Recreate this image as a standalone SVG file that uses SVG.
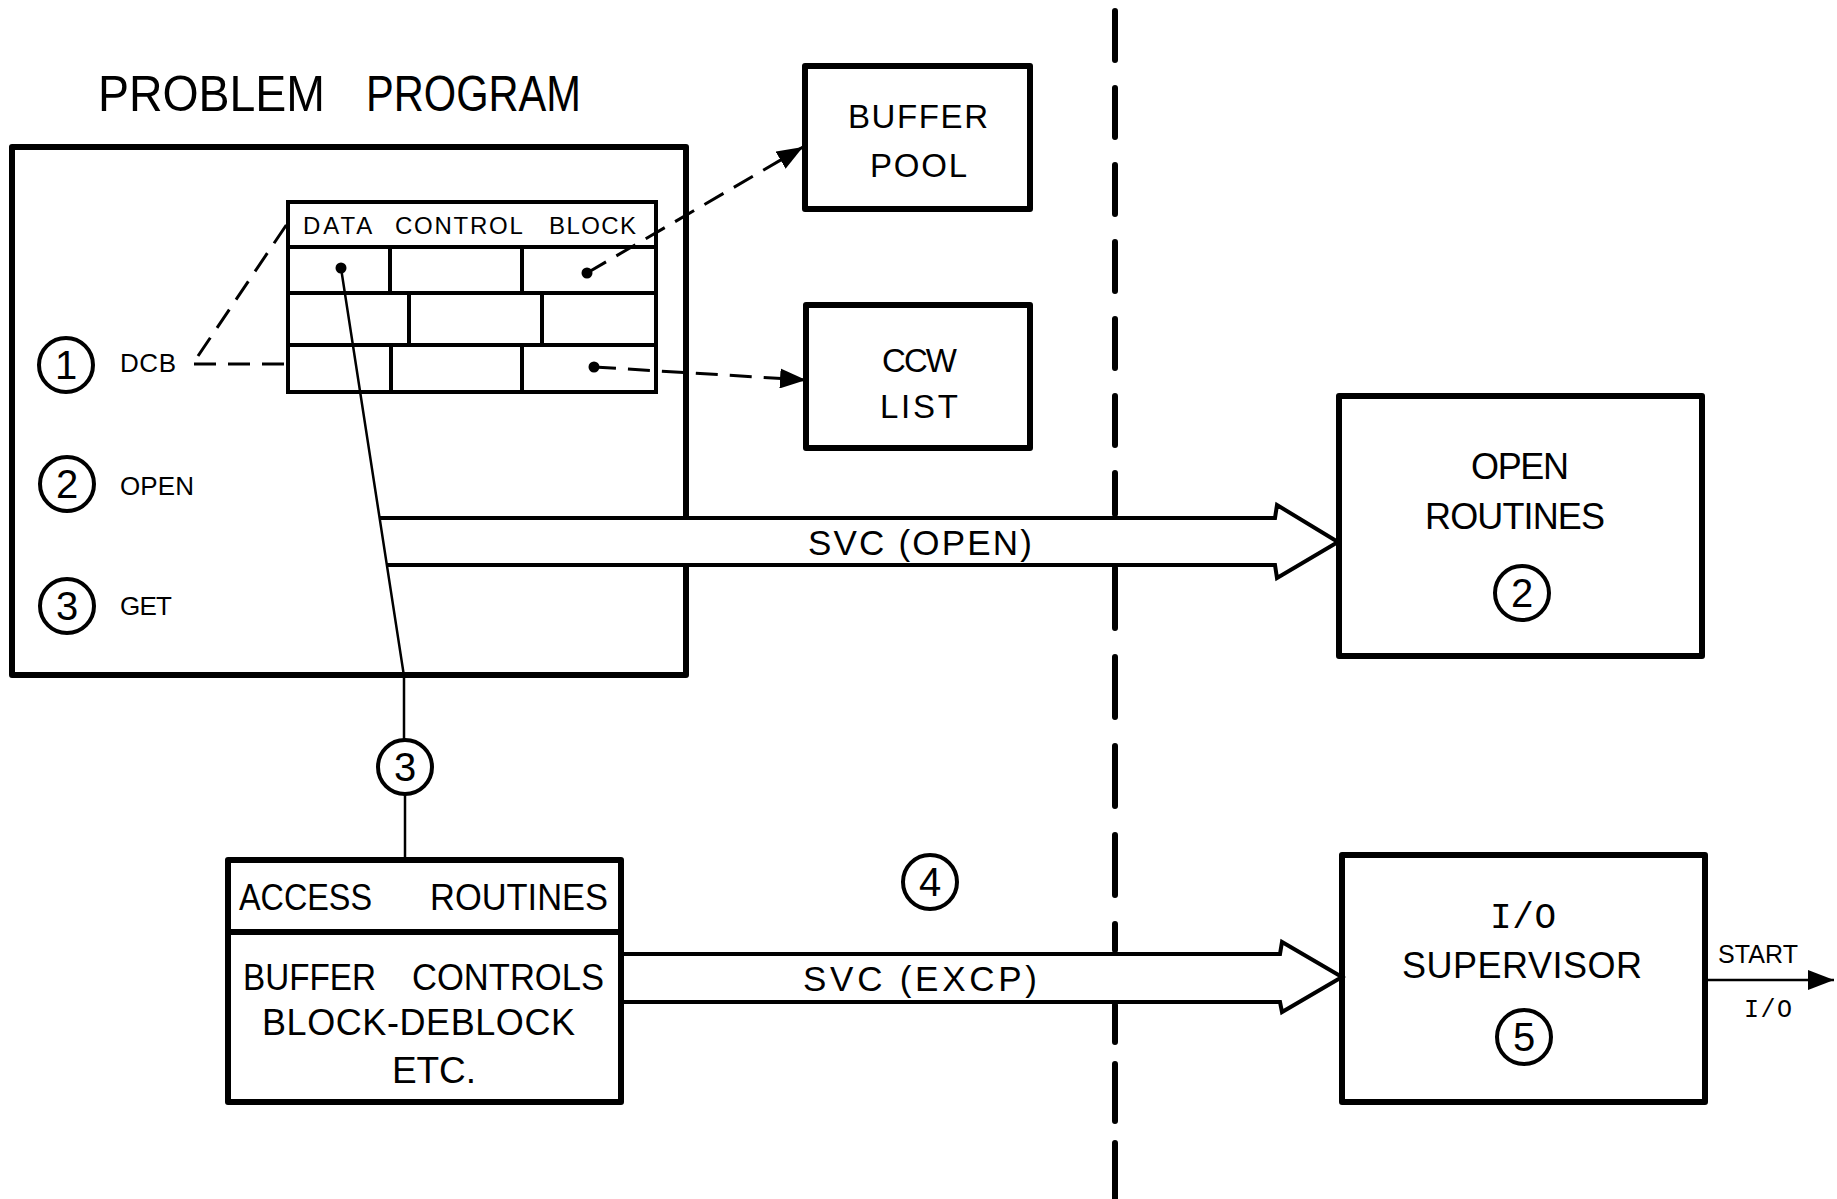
<svg xmlns="http://www.w3.org/2000/svg" width="1837" height="1199" viewBox="0 0 1837 1199">
<defs>
<style>
.t{font-family:"Liberation Sans","DejaVu Sans",sans-serif;fill:#000;}
.m{font-family:"Liberation Mono","DejaVu Sans Mono",monospace;fill:#000;}
.box{fill:none;stroke:#000;stroke-width:6;stroke-linejoin:round;}
.tbl{fill:none;stroke:#000;stroke-width:4;}
.num{fill:none;stroke:#000;stroke-width:4;}
.band{fill:none;stroke:#000;stroke-width:4;stroke-linejoin:miter;}
.dash{fill:none;stroke:#000;stroke-width:3;stroke-dasharray:22 12;}
.div{fill:none;stroke:#000;stroke-width:6;stroke-linecap:round;}
.thin{fill:none;stroke:#000;stroke-width:2.5;}
</style>
<marker id="ah" viewBox="0 0 26 20" refX="26" refY="10" markerWidth="26" markerHeight="20" markerUnits="userSpaceOnUse" orient="auto">
<path d="M0,0 L26,10 L0,20 Z" fill="#000"/>
</marker>
</defs>

<g id="title">
<text class="t" font-size="50"><tspan x="98" y="111" textLength="227" lengthAdjust="spacingAndGlyphs">PROBLEM</tspan> <tspan x="366" y="111" textLength="215" lengthAdjust="spacingAndGlyphs">PROGRAM</tspan></text>
</g>

<g id="problem-program">
<path class="box" d="M686,518 V147 H12 V675 H686 V565"/>
<g id="step1">
<circle class="num" cx="66" cy="365" r="27"/>
<text class="t" x="66" y="379" font-size="40" text-anchor="middle">1</text>
<text class="t" x="120" y="372" font-size="26" textLength="56" lengthAdjust="spacing">DCB</text>
</g>
<g id="step2">
<circle class="num" cx="67" cy="484" r="27"/>
<text class="t" x="67" y="498" font-size="40" text-anchor="middle">2</text>
<text class="t" x="120" y="495" font-size="26" textLength="74" lengthAdjust="spacing">OPEN</text>
</g>
<g id="step3">
<circle class="num" cx="67" cy="606" r="27"/>
<text class="t" x="67" y="620" font-size="40" text-anchor="middle">3</text>
<text class="t" x="120" y="615" font-size="26" textLength="52" lengthAdjust="spacing">GET</text>
</g>
</g>

<g id="data-control-block">
<rect class="tbl" x="288" y="202" width="368" height="190"/>
<line class="tbl" x1="288" y1="247" x2="656" y2="247"/>
<line class="tbl" x1="288" y1="293" x2="656" y2="293"/>
<line class="tbl" x1="288" y1="345" x2="656" y2="345"/>
<line class="tbl" x1="390" y1="247" x2="390" y2="293"/>
<line class="tbl" x1="522" y1="247" x2="522" y2="293"/>
<line class="tbl" x1="409" y1="293" x2="409" y2="345"/>
<line class="tbl" x1="542" y1="293" x2="542" y2="345"/>
<line class="tbl" x1="391" y1="345" x2="391" y2="392"/>
<line class="tbl" x1="522" y1="345" x2="522" y2="392"/>
<text class="t" font-size="24"><tspan x="303" y="234" textLength="68" lengthAdjust="spacing">DATA</tspan> <tspan x="395" y="234" textLength="127" lengthAdjust="spacing">CONTROL</tspan> <tspan x="549" y="234" textLength="87" lengthAdjust="spacing">BLOCK</tspan></text>
<circle cx="341" cy="268" r="5.5" fill="#000"/>
<circle cx="587" cy="273" r="5.5" fill="#000"/>
<circle cx="594" cy="367" r="5.5" fill="#000"/>
</g>

<g id="buffer-pool">
<rect class="box" x="805" y="66" width="225" height="143"/>
<text class="t" x="848" y="128" font-size="33" textLength="140" lengthAdjust="spacing">BUFFER</text>
<text class="t" x="870" y="177" font-size="33" textLength="97" lengthAdjust="spacing">POOL</text>
</g>

<g id="ccw-list">
<rect class="box" x="806" y="305" width="224" height="143"/>
<text class="t" x="882" y="372" font-size="33" textLength="75" lengthAdjust="spacing">CCW</text>
<text class="t" x="880" y="418" font-size="33" textLength="78" lengthAdjust="spacing">LIST</text>
</g>

<g id="open-routines">
<rect class="box" x="1339" y="396" width="363" height="260" stroke-width="7"/>
<text class="t" x="1471" y="479" font-size="36" textLength="98" lengthAdjust="spacing">OPEN</text>
<text class="t" x="1425" y="529" font-size="36" textLength="180" lengthAdjust="spacing">ROUTINES</text>
<circle class="num" cx="1522" cy="593" r="27"/>
<text class="t" x="1522" y="607" font-size="40" text-anchor="middle">2</text>
</g>

<g id="access-routines">
<rect class="box" x="228" y="860" width="393" height="242"/>
<line class="box" x1="228" y1="932" x2="621" y2="932" stroke-width="5"/>
<text class="t" font-size="37"><tspan x="239" y="910" textLength="133" lengthAdjust="spacingAndGlyphs">ACCESS</tspan> <tspan x="430" y="910" textLength="178" lengthAdjust="spacingAndGlyphs">ROUTINES</tspan></text>
<text class="t" font-size="37"><tspan x="243" y="990" textLength="133" lengthAdjust="spacingAndGlyphs">BUFFER</tspan> <tspan x="412" y="990" textLength="192" lengthAdjust="spacingAndGlyphs">CONTROLS</tspan></text>
<text class="t" x="262" y="1035" font-size="36" textLength="313" lengthAdjust="spacing">BLOCK-DEBLOCK</text>
<text class="t" x="392" y="1083" font-size="37" textLength="84" lengthAdjust="spacing">ETC.</text>
</g>

<g id="io-supervisor">
<rect class="box" x="1342" y="855" width="363" height="247"/>
<text class="m" x="1490" y="928" font-size="36" textLength="66" lengthAdjust="spacing">I/O</text>
<text class="t" x="1402" y="978" font-size="36" textLength="240" lengthAdjust="spacing">SUPERVISOR</text>
<circle class="num" cx="1524" cy="1037" r="27"/>
<text class="t" x="1524" y="1051" font-size="40" text-anchor="middle">5</text>
</g>

<g id="step3-marker">
<circle class="num" cx="405" cy="767" r="27"/>
<text class="t" x="405" y="781" font-size="40" text-anchor="middle">3</text>
</g>

<g id="step4-marker">
<circle class="num" cx="930" cy="882" r="27"/>
<text class="t" x="930" y="896" font-size="40" text-anchor="middle">4</text>
</g>

<g id="connectors">
<path class="dash" d="M198,356 L287,224"/>
<path class="dash" d="M194,364 H287"/>
<path class="dash" d="M587,273 L803,147" marker-end="url(#ah)"/>
<path class="dash" d="M594,367 L806,380" marker-end="url(#ah)"/>
<path class="thin" d="M341,268 L404,676 V740"/>
<path class="thin" d="M405,794 V860"/>
<path class="band" d="M380,518 H1275 L1277,505 L1338,542 L1277,578 L1275,565 H387"/>
<text class="t" x="808" y="555" font-size="35" textLength="224" lengthAdjust="spacing">SVC (OPEN)</text>
<path class="band" d="M621,954 H1280 L1282,942 L1342,977 L1282,1012 L1280,1002 H621"/>
<text class="t" x="803" y="991" font-size="35" textLength="234" lengthAdjust="spacing">SVC (EXCP)</text>
<path class="thin" d="M1705,980 H1834" stroke-width="3" marker-end="url(#ah)"/>
<text class="t" x="1718" y="963" font-size="25" textLength="80" lengthAdjust="spacing">START</text>
<text class="m" x="1744" y="1017" font-size="25" textLength="48" lengthAdjust="spacing">I/O</text>
<path class="div" d="M1115,11 V514" stroke-dasharray="49 28"/>
<path class="div" d="M1115,568 V950" stroke-dasharray="60 29"/>
<path class="div" d="M1115,1005 V1199" stroke-dasharray="37 22 57 22 57 22"/>
</g>
</svg>
